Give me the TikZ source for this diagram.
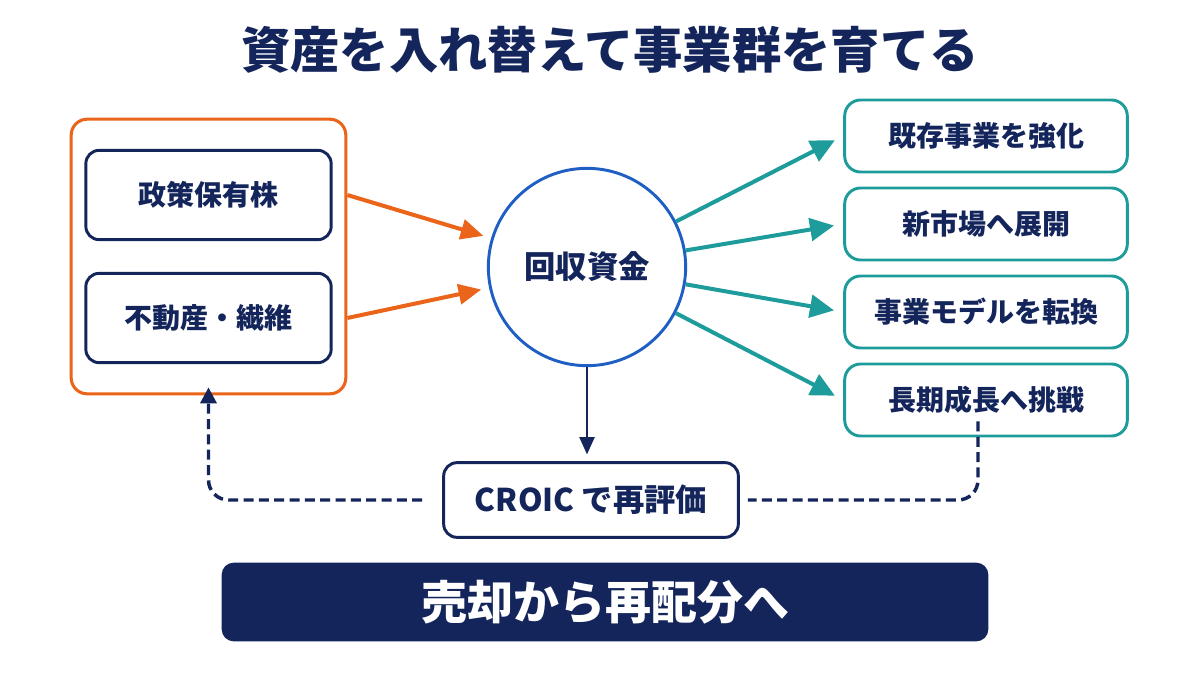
\documentclass[tikz,border=0pt]{standalone}
\usepackage{fontspec}
\setmainfont{Noto Sans CJK JP}[BoldFont={Noto Sans CJK JP Black}]
\usetikzlibrary{arrows.meta}

\definecolor{navyInk}{HTML}{13255B}
\definecolor{orangeLine}{HTML}{EA6519}
\definecolor{hubBlue}{HTML}{1F5FC4}
\definecolor{tealLine}{HTML}{1E9C9C}

\begin{document}
\begin{tikzpicture}[
    x=0.75pt, y=-0.75pt,
    boxText/.style={font=\fontsize{21pt}{24pt}\selectfont\bfseries, text=navyInk},
    assetFrame/.style={draw=orangeLine, line width=2.3pt, rounded corners=12pt, minimum width=206pt, minimum height=206pt, inner sep=0pt},
    srcBox/.style={boxText, draw=navyInk, line width=2.2pt, rounded corners=10pt, minimum width=184pt, minimum height=67pt, fill=white},
    hubCircle/.style={boxText, circle, draw=hubBlue, line width=2.2pt, minimum size=148pt, inner sep=0pt, font=\fontsize{23.5pt}{26pt}\selectfont\bfseries},
    dstBox/.style={boxText, draw=tealLine, line width=2.2pt, rounded corners=12pt, minimum width=212pt, minimum height=54pt, fill=white},
    reviewBox/.style={boxText, draw=navyInk, line width=2.2pt, rounded corners=10pt, minimum width=221pt, minimum height=56pt, font=\fontsize{23.5pt}{26pt}\selectfont\bfseries},
    bannerBox/.style={fill=navyInk, rounded corners=9pt, minimum width=575pt, minimum height=59pt, text=white, font=\fontsize{34.5pt}{38pt}\selectfont\bfseries},
    inEdge/.style={draw=orangeLine, line width=3pt, -{Triangle[length=17pt, width=15pt]}},
    outEdge/.style={draw=tealLine, line width=3pt, -{Triangle[length=18pt, width=17pt]}},
    downEdge/.style={draw=navyInk, line width=2.2pt, -{Triangle[length=13pt, width=11pt]}},
    loopEdge/.style={draw=navyInk, line width=2.6pt, dash pattern=on 7.5pt off 4pt, rounded corners=15pt}
]
\useasboundingbox (0,0) rectangle (1200,675);

% title
\node[font=\fontsize{37pt}{40pt}\selectfont\bfseries, text=navyInk] (title) at (610,50) {資産を入れ替えて事業群を育てる};

% assets to sell
\node[assetFrame] (assets) at (208.5,256.5) {};
\node[srcBox] (src1) at (208.5,195) {政策保有株};
\node[srcBox] (src2) at (208.5,318) {不動産・繊維};

% recovered funds
\node[hubCircle] (hub) at (587,267) {回収資金};
\draw[inEdge, shorten >=6pt] (src1 -| assets.east) -- (hub);
\draw[inEdge, shorten >=6pt] (src2 -| assets.east) -- (hub);

% where the funds go
\node[dstBox] (dst1) at (986,136) {既存事業を強化};
\node[dstBox] (dst2) at (986,224) {新市場へ展開};
\node[dstBox] (dst3) at (986,312) {事業モデルを転換};
\node[dstBox] (dst4) at (986,400) {長期成長へ挑戦};
\foreach \d in {dst1,dst2,dst3,dst4}
    \draw[outEdge, shorten >=7pt] (hub) -- (\d.west);

% review loop
\node[reviewBox] (review) at (591,500) {CROIC で再評価};
\draw[downEdge, shorten >=5pt] (hub) -- (hub |- review.north);
\draw[loopEdge, -{Triangle[length=12pt, width=12pt]}] ([xshift=-15pt]review.west) -| ([yshift=6pt]assets.south);
\draw[loopEdge] ([xshift=-6pt,yshift=12pt]dst4.south) |- ([xshift=6pt]review.east);

% bottom message
\node[bannerBox] (banner) at (605,602) {売却から再配分へ};
\end{tikzpicture}
\end{document}
